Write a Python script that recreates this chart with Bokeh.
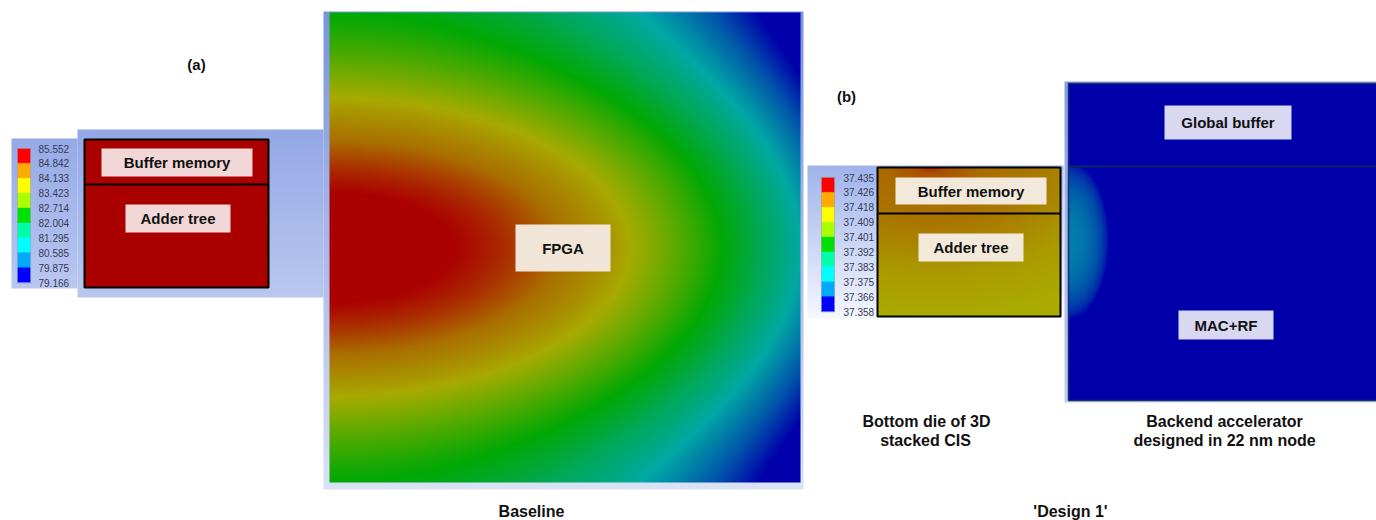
import numpy as np
from bokeh.plotting import figure
from bokeh.models import Range1d
from bokeh.embed import file_html
from bokeh.resources import INLINE
from bokeh.core.properties import value

# ---------------- data ----------------
legend_a = [85.552, 84.842, 84.133, 83.423, 82.714, 82.004, 81.295, 80.585, 79.875, 79.166]
legend_b = [37.435, 37.426, 37.418, 37.409, 37.401, 37.392, 37.383, 37.375, 37.366, 37.358]
legend_colors = ["#ff0000", "#ffaa00", "#ffff00", "#aaff00", "#00e000",
                 "#00ffaa", "#00ffff", "#00aaff", "#0000ff"]
labels_a = ["Buffer memory", "Adder tree"]
labels_fpga = ["FPGA"]
labels_b = ["Buffer memory", "Adder tree"]
labels_acc = ["Global buffer", "MAC+RF"]
captions = ["Baseline", "'Design 1'"]
subcaps = ["Bottom die of 3D", "stacked CIS", "Backend accelerator", "designed in 22 nm node"]
panel_tags = ["(a)", "(b)"]

# ---------------- figure ----------------
W, H = 1376, 520
p = figure(width=W, height=H, x_range=Range1d(0, W), y_range=Range1d(0, H),
           output_backend="svg", toolbar_location=None, min_border=0)
p.axis.visible = False
p.grid.visible = False
p.outline_line_color = None
p.background_fill_color = "white"
p.border_fill_color = "white"


def Y(sy):
    return H - sy


def to_u32(arr):
    a = np.ascontiguousarray(arr[::-1].astype(np.uint8))
    return a.view(np.uint32).reshape(a.shape[0], a.shape[1])


def put(arr, left, top):
    h, w = arr.shape[0], arr.shape[1]
    p.image_rgba(image=[to_u32(arr)], x=left, y=Y(top + h), dw=w, dh=h)


def vgrad(left, top, right, bottom, c_top, c_bot):
    h, w = bottom - top, right - left
    t = np.linspace(0, 1, h)[:, None]
    arr = np.zeros((h, w, 4))
    for k in range(3):
        arr[:, :, k] = c_top[k] + (c_bot[k] - c_top[k]) * t
    arr[:, :, 3] = 255
    put(arr, left, top)


def colormap(v, stops, R, G, B):
    out = np.zeros(v.shape + (4,))
    out[..., 0] = np.interp(v, stops, R)
    out[..., 1] = np.interp(v, stops, G)
    out[..., 2] = np.interp(v, stops, B)
    out[..., 3] = 255
    return out


# ---------------- backgrounds / frames ----------------
vgrad(77, 129, 323, 297, (148, 168, 230), (186, 200, 240))       # (a) chip backdrop
vgrad(11, 138, 77, 288, (150, 170, 231), (186, 200, 240))        # (a) legend panel
vgrad(323, 11, 803, 489, (122, 148, 224), (218, 226, 246))       # FPGA frame
vgrad(807, 165, 1063, 318, (160, 180, 235), (246, 248, 255))     # (b) panel
vgrad(1064, 81, 1376, 402, (135, 160, 228), (195, 208, 242))     # accelerator frame

# ---------------- FPGA thermal map ----------------
x0, x1, y0, y1 = 329, 800, 12, 482
xs = np.arange(x0, x1) + 0.5
ys = np.arange(y0, y1) + 0.5
DX, DY = np.meshgrid(xs - x0, ys - 247.0)
Hh = 650.0
s = 2.33
wv = np.cosh(2 * np.pi * DX / (s * Hh)) - np.cos(2 * np.pi * DY / Hh)
stops = [0, 0.13, 0.489, 0.879, 1.25, 1.645, 2.1, 2.6, 3.2, 3.7]
R = [170, 170, 170, 168, 85, 0, 0, 0, 0, 0]
G = [0, 0, 112, 170, 170, 168, 168, 168, 85, 0]
B = [0, 0, 0, 0, 0, 5, 90, 165, 170, 170]
put(colormap(wv, stops, R, G, B), x0, y0)

# ---------------- (a) chip ----------------
p.quad(left=84, right=268, top=Y(139), bottom=Y(287), fill_color="#aa0000",
       line_color="black", line_width=2)
p.segment(x0=84, x1=268, y0=Y(184), y1=Y(184), line_color="black", line_width=2)

# ---------------- (b) chip ----------------
bx0, bx1, by0, by1 = 877, 1060, 167, 316
xs = np.arange(bx0, bx1) + 0.5
ys = np.arange(by0, by1) + 0.5
DX, DY = np.meshgrid(xs - 930, ys - 163)
d = np.sqrt((DX * 0.6) ** 2 + DY ** 2)
put(colormap(d, [0, 10, 30, 60, 110, 150], [170] * 6, [20, 80, 108, 118, 155, 170], [0] * 6), bx0, by0)
p.quad(left=bx0, right=bx1, top=Y(by0), bottom=Y(by1), fill_color=None,
       line_color="black", line_width=2)
p.segment(x0=bx0, x1=bx1, y0=Y(213), y1=Y(213), line_color="black", line_width=2)

# ---------------- accelerator ----------------
ax0, ax1, ay0, ay1 = 1068, 1376, 83, 400
xs = np.arange(ax0, ax1) + 0.5
ys = np.arange(ay0, ay1) + 0.5
DX, DY = np.meshgrid(xs - ax0, ys - 240)
t2 = (DX / 40.0) ** 2 + (DY / 78.0) ** 2
f = np.clip(1 - t2, 0, 1) ** 0.6
f[(ys < 167)[:, None].repeat(len(xs), axis=1)] = 0
acc = np.zeros(DX.shape + (4,))
acc[..., 0] = 0
acc[..., 1] = 128 * f
acc[..., 2] = 170
acc[..., 3] = 255
put(acc, ax0, ay0)
p.quad(left=ax0, right=1380, top=Y(ay0), bottom=Y(ay1), fill_color=None,
       line_color="#1a2f6e", line_width=1.5)
p.segment(x0=ax0, x1=1376, y0=Y(166), y1=Y(166), line_color="#0d2466", line_width=2)

# ---------------- legends ----------------
def legend(xl, xr, ytop, vals, xt):
    n = len(legend_colors)
    step = 14.9
    tops = [Y(ytop + i * step) for i in range(n)]
    bots = [Y(ytop + (i + 1) * step) for i in range(n)]
    p.quad(left=[xl] * n, right=[xr] * n, top=tops, bottom=bots, fill_color=legend_colors,
           line_color=legend_colors, line_width=0.5)
    p.quad(left=xl, right=xr, top=Y(ytop), bottom=Y(ytop + n * step), fill_color=None,
           line_color="#9aa0c0", line_width=1, line_alpha=0.6)
    p.text(x=[xt] * len(vals), y=[Y(ytop + i * step) for i in range(len(vals))],
           text=[f"{v:.3f}" for v in vals], text_font=value("Liberation Sans"),
           text_font_size="10px", text_color="#363a55", text_align="left", text_baseline="middle")


legend(17, 30, 148, legend_a, 38)
legend(821, 834, 177, legend_b, 843)

# ---------------- label boxes ----------------
def label_boxes(cx, cy, ws, hs, texts, fill, size="15px"):
    p.rect(x=cx, y=[Y(v) for v in cy], width=ws, height=hs, fill_color=fill, line_color=None)
    p.text(x=cx, y=[Y(v) for v in cy], text=texts, text_font=value("Liberation Sans"),
           text_font_style="bold", text_font_size=size, text_color="#111111",
           text_align="center", text_baseline="middle")


label_boxes([176.5, 177.5], [162, 218], [151, 105], [28, 28], labels_a, "#f1d7d7")
label_boxes([562.5], [247.5], [95], [47], labels_fpga, "#f0e5d6")
label_boxes([970.5, 970.5], [190.5, 247], [151, 105], [27, 28], labels_b, "#f2e9db")
label_boxes([1227.5, 1225.5], [122, 324.5], [127, 95], [34, 29], labels_acc, "#d8d8f0")

# ---------------- captions ----------------
cap_font = dict(text_font=value("Liberation Sans"), text_font_style="bold",
                text_color="#111111", text_align="center", text_baseline="middle")
p.text(x=[196, 846], y=[Y(64), Y(96)], text=panel_tags, text_font_size="15px", **cap_font)
p.text(x=[926, 925, 1224, 1224], y=[Y(421), Y(440), Y(421), Y(440)], text=subcaps,
       text_font_size="16px", **cap_font)
p.text(x=[531, 1070], y=[Y(511), Y(511)], text=captions, text_font_size="16px", **cap_font)

open("out.html", "w").write(file_html(p, INLINE))
